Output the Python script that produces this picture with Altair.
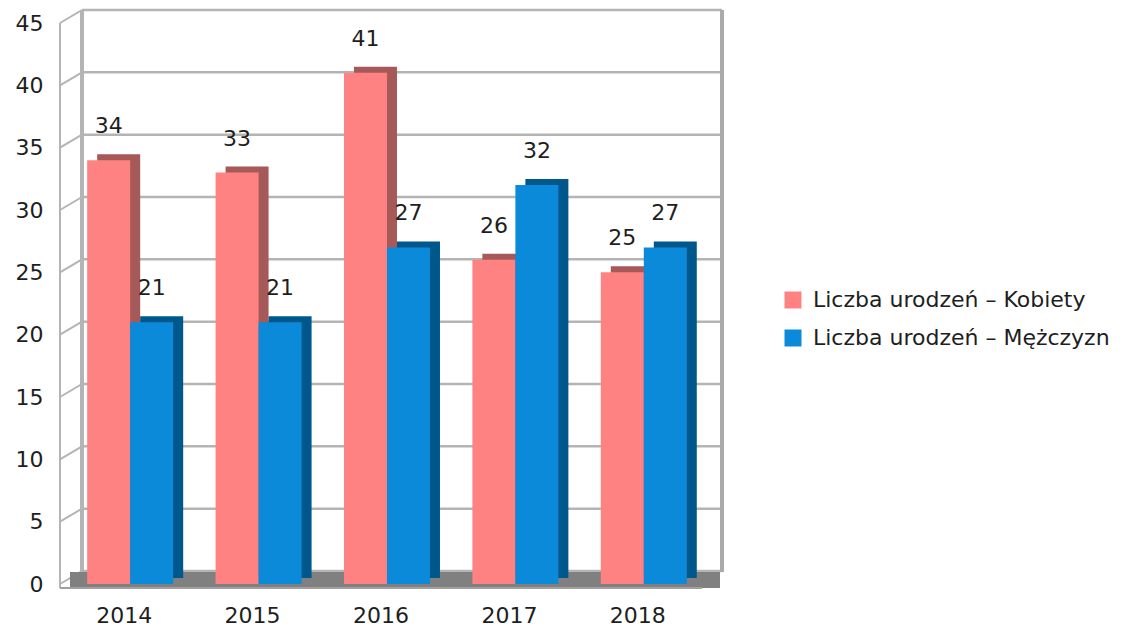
import altair as alt
import pandas as pd

years = ["2014", "2015", "2016", "2017", "2018"]
kobiety = [34, 33, 41, 26, 25]
mezczyzn = [21, 21, 27, 32, 27]
series = ["Liczba urodzeń – Kobiety", "Liczba urodzeń – Mężczyzn"]
tick_values = [0, 5, 10, 15, 20, 25, 30, 35, 40, 45]

face_colors = ["#ff8282", "#0a8ad8"]
side_colors = ["#a65959", "#00578c"]
FONT = "DejaVu Sans"
TXT = "#1e1e1e"
GRID = "#b4b4b4"
W, H = 642, 561

df = pd.DataFrame({
    "year": years * 2,
    "series": [series[0]] * len(years) + [series[1]] * len(years),
    "value": kobiety + mezczyzn,
})
grid_df = pd.DataFrame({"v": tick_values})

yscale = alt.Scale(domain=[0, 45], nice=False, zero=True)
xscale = alt.Scale(paddingInner=0.33, paddingOuter=0.165)

x_axis = alt.Axis(labelAngle=0, labelFontSize=22, labelFont=FONT, labelColor=TXT,
                  labelPadding=21, domain=False, ticks=False, grid=False, title=None)
y_axis = alt.Axis(values=tick_values, labelFontSize=22, labelFont=FONT, labelColor=TXT,
                  labelPadding=17, domain=False, ticks=False, grid=False, title=None)

X = alt.X("year:N", sort=years, scale=xscale, axis=x_axis)
Y = alt.Y("value:Q", scale=yscale, axis=y_axis)
YG = alt.Y("v:Q", scale=yscale, axis=y_axis)

# back wall gridlines
back_grid = alt.Chart(grid_df).mark_rule(color=GRID, strokeWidth=2.5, yOffset=-13).encode(
    y=YG, x=alt.value(22), x2=alt.value(662),
)
# left wall diagonals
left_diag = alt.Chart(grid_df).transform_calculate(
    v2="datum.v + 45 * 13 / 561"
).mark_rule(color=GRID, strokeWidth=2).encode(
    y=YG, y2="v2:Q", x=alt.value(0), x2=alt.value(22),
)
# wall verticals
wall_front = alt.Chart(grid_df).mark_rule(color=GRID, strokeWidth=2).encode(
    x=alt.value(0), y=alt.value(0), y2=alt.value(565))
wall_back = alt.Chart(grid_df).mark_rule(color=GRID, strokeWidth=3).encode(
    x=alt.value(22), y=alt.value(-13), y2=alt.value(549))
wall_right = alt.Chart(grid_df).mark_rule(color="#aaaaaa", strokeWidth=3.5).encode(
    x=alt.value(662), y=alt.value(-13), y2=alt.value(549))
# floor
floor = alt.Chart(grid_df).mark_rect(color="#808080").encode(
    x=alt.value(10), x2=alt.value(660), y=alt.value(549), y2=alt.value(565))
floor_edge = alt.Chart(grid_df).mark_rule(color="#a0a0a0", strokeWidth=2).encode(
    x=alt.value(0), x2=alt.value(642), y=alt.value(565))

side = alt.Chart(df).mark_bar(yOffset=-6).encode(
    x=X,
    xOffset=alt.XOffset("series:N", sort=series, scale=alt.Scale(range=[16, 102])),
    y=Y,
    color=alt.Color("series:N", sort=series,
                    scale=alt.Scale(domain=series, range=side_colors), legend=None),
)
front = alt.Chart(df).mark_bar().encode(
    x=X,
    xOffset=alt.XOffset("series:N", sort=series, scale=alt.Scale(range=[6, 92])),
    y=Y,
    color=alt.Color("series:N", sort=series,
                    scale=alt.Scale(domain=series, range=face_colors),
                    legend=alt.Legend(orient="none", legendX=722, legendY=266, title=None,
                                      symbolType="square", symbolSize=289, symbolStrokeWidth=0,
                                      labelFontSize=22, labelFont=FONT, labelColor=TXT,
                                      labelOffset=9, rowPadding=16, labelLimit=400)),
)
labels = alt.Chart(df).mark_text(font=FONT, fontSize=22, color=TXT, baseline="alphabetic",
                                 dy=-27).encode(
    x=X,
    xOffset=alt.XOffset("series:N", sort=series, scale=alt.Scale(range=[6, 92])),
    y=Y, text="value:Q",
)

bars = alt.layer(side, front, labels).resolve_scale(color="independent", xOffset="independent")

chart = alt.layer(
    back_grid, left_diag, wall_front, wall_back, wall_right, floor, floor_edge,
    bars,
).properties(
    width=W, height=H,
    padding={"left": 52, "top": 15, "right": 425, "bottom": 47},
    autosize="none",
).configure_view(stroke=None)

chart.save("out.html", embed_options={"renderer": "svg", "actions": False})
